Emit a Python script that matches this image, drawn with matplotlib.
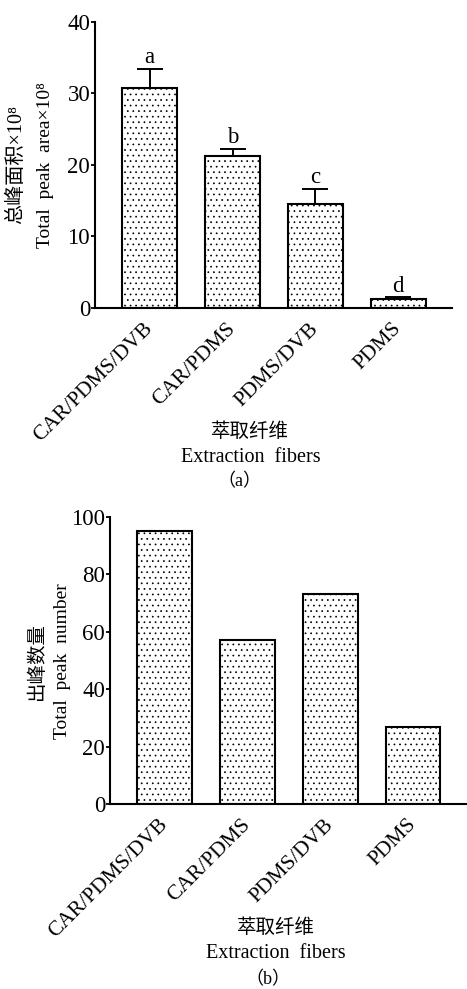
import matplotlib
matplotlib.use("Agg")
import matplotlib.pyplot as plt

plt.rcParams['font.family'] = ['Liberation Serif', 'Noto Sans CJK SC']
plt.rcParams['hatch.linewidth'] = 0.5

fibers = ['CAR/PDMS/DVB', 'CAR/PDMS', 'PDMS/DVB', 'PDMS']
peak_area = [30.8, 21.3, 14.6, 1.3]
peak_area_err = [2.6, 1.0, 2.1, 0.2]
letters = ['a', 'b', 'c', 'd']
peak_number = [95, 57, 73, 27]

fig = plt.figure(figsize=(4.67, 9.89), dpi=100)
ax1 = fig.add_axes([0.2034, 0.6886, 0.7646, 0.2892])
ax2 = fig.add_axes([0.2355, 0.1870, 0.7645, 0.2903])


def style(ax, ymax, step):
    ax.set_xlim(-0.66, 3.65)
    ax.set_ylim(0, ymax)
    ax.set_yticks(range(0, ymax + 1, step))
    ax.set_xticks(range(len(fibers)))
    ax.set_xticklabels(fibers, rotation=45, ha='right', va='center',
                       rotation_mode='anchor', fontsize=15.5)
    ax.tick_params(axis='x', length=0, pad=13)
    ax.tick_params(axis='y', length=3, width=1.3, labelsize=16.5, pad=0.5)
    for s in ['top', 'right']:
        ax.spines[s].set_visible(False)
    for s in ['left', 'bottom']:
        ax.spines[s].set_linewidth(1.5)


# (a) total peak area
x = range(len(fibers))
ax1.bar(x, peak_area, width=0.66, color='white', edgecolor='black',
        linewidth=1.5, hatch='...', zorder=2)
ax1.errorbar(x, peak_area, yerr=[[0] * 4, peak_area_err], fmt='none',
             ecolor='black', elinewidth=1.4, capsize=9.5, capthick=1.4, zorder=3)
for i, (v, e, t) in enumerate(zip(peak_area, peak_area_err, letters)):
    ax1.text(i, v + e + 0.1, t, ha='center', va='bottom', fontsize=16.5)
style(ax1, 40, 10)

fig.text(0.036, 0.8332, '总峰面积×10⁸', rotation=90, ha='center',
         va='center', fontsize=14.5)
fig.text(0.0964, 0.8332, 'Total  peak  area×10⁸', rotation=90,
         ha='center', va='center', fontsize=14)
fig.text(0.535, 0.5632, '萃取纤维', ha='center', va='center', fontsize=14)
fig.text(0.5375, 0.5379, 'Extraction  fibers', ha='center', va='center',
         fontsize=14.5)
fig.text(0.512, 0.5126, '（a）', ha='center', va='center', fontsize=13)

# (b) total peak number
ax2.bar(x, peak_number, width=0.66, color='white', edgecolor='black',
        linewidth=1.5, hatch='...', zorder=2)
style(ax2, 100, 20)

fig.text(0.0792, 0.3317, '出峰数量', rotation=90, ha='center', va='center',
         fontsize=14)
fig.text(0.1328, 0.3317, 'Total  peak  number', rotation=90, ha='center',
         va='center', fontsize=14)
fig.text(0.591, 0.0617, '萃取纤维', ha='center', va='center', fontsize=14)
fig.text(0.591, 0.0364, 'Extraction  fibers', ha='center', va='center',
         fontsize=14.5)
fig.text(0.574, 0.0091, '（b）', ha='center', va='center', fontsize=13)

fig.savefig('out.png', dpi=100)
